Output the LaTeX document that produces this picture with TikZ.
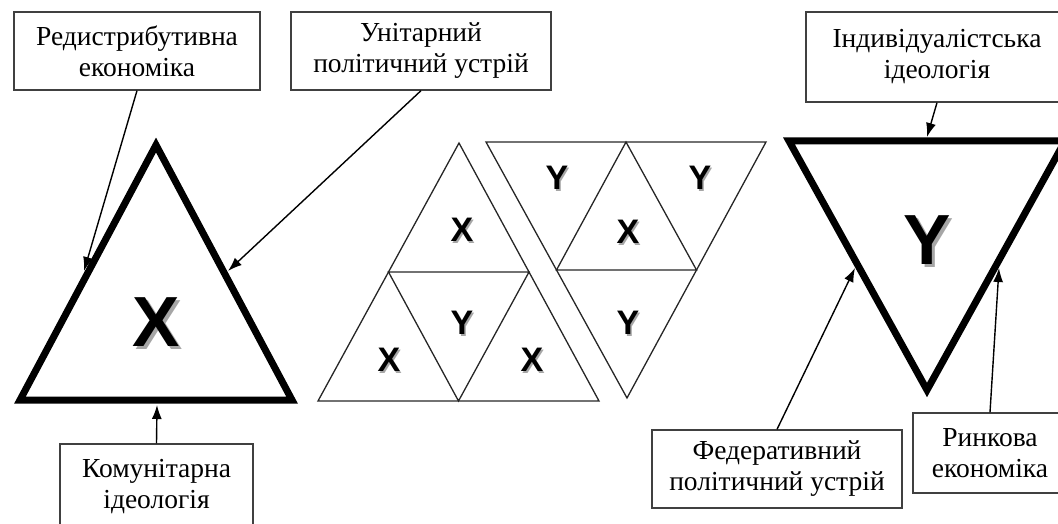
\documentclass[tikz,border=0pt]{standalone}
\usepackage{fontspec}
\setmainfont{Liberation Serif}
\newfontfamily\letterfont{Liberation Sans}
\usetikzlibrary{arrows.meta,calc}

\tikzset{
  lbl/.style={draw=black!75, line width=1.3pt, align=center, inner sep=0pt,
    font=\fontsize{27.5}{31}\selectfont},
  arr/.style={line width=1.4pt, -{Latex[length=14pt,width=10pt]}},
  bigtri/.style={line width=7pt, line join=miter},
  smtri/.style={draw=black!85, line width=1.3pt, line join=miter},
  bigsym/.style={font=\letterfont\bfseries\fontsize{71}{71}\selectfont, inner sep=0pt},
  smsym/.style={font=\letterfont\bfseries\fontsize{34}{34}\selectfont, inner sep=0pt},
}

\begin{document}
\begin{tikzpicture}[x=1pt,y=-1pt]
\clip (0,0) rectangle (1058,524);

% text boxes
\node[lbl, minimum width=246pt, minimum height=78pt] (redist) at (137,51) {Редистрибутивна\\економіка};
\node[lbl, minimum width=260pt, minimum height=78pt] (unit) at (421,51) {Унітарний\\політичний устрій};
\node[lbl, minimum width=193pt, minimum height=86pt] (comm) at (156.5,487) {Комунітарна\\ідеологія};
\node[lbl, minimum width=262pt, minimum height=90pt] (indiv) at (937,57) {Індивідуалістська\\ідеологія};
\node[lbl, minimum width=250pt, minimum height=78pt] (fed) at (777,469) {Федеративний\\політичний устрій};
\node[lbl, minimum width=154pt, minimum height=80pt] (market) at (990,453) {Ринкова\\економіка};

% left big triangle
\coordinate (la) at (156,145);
\coordinate (lb) at (20,400);
\coordinate (lc) at (292,400);
\draw[bigtri] (la) -- (lb) -- (lc) -- cycle;
\node[bigsym, text=black!35] (xshade) at (159,325) {X};
\node[bigsym] (xbig) at (156,322) {X};

% right big triangle
\coordinate (ra) at (789,141);
\coordinate (rb) at (1065,141);
\coordinate (rc) at (927,390);
\draw[bigtri] (ra) -- (rb) -- (rc) -- cycle;
\node[bigsym, text=black!35] (yshade) at (930,243) {Y};
\node[bigsym] (ybig) at (927,240) {Y};

% middle tiling, upward group
\coordinate (ua) at (459,143);
\coordinate (ub) at (318,401);
\coordinate (uc) at (599,401);
\draw[smtri] (ua) -- (ub) -- (uc) -- cycle;
\draw[smtri] ($(ua)!0.5!(ub)$) -- ($(ua)!0.5!(uc)$) -- ($(ub)!0.5!(uc)$) -- cycle;

% middle tiling, downward group
\coordinate (da) at (486,142);
\coordinate (db) at (766,142);
\coordinate (dc) at (627,398);
\draw[smtri] (da) -- (db) -- (dc) -- cycle;
\draw[smtri] ($(da)!0.5!(db)$) -- ($(da)!0.5!(dc)$) -- ($(db)!0.5!(dc)$) -- cycle;

\foreach \n/\x/\y/\t in {p1/462/230/X, p2/462/323/Y, p3/389/360/X, p4/532/360/X,
    q1/557/178/Y, q2/628/232/X, q3/700/178/Y, q4/628/323/Y} {
  \node[smsym, text=black!35] (sh\n) at (\x+1.5,\y+1.5) {\t};
  \node[smsym] (s\n) at (\x,\y) {\t};
}

% arrows
\coordinate (t1) at (84,271);
\coordinate (t2) at (228,271);
\coordinate (t3) at (157,405);
\coordinate (t4) at (927,137);
\coordinate (t5) at (855,268);
\coordinate (t6) at (999,268);
\draw[arr] (redist.south) -- (t1);
\draw[arr] (unit.south) -- (t2);
\draw[arr] (comm.north) -- (t3);
\draw[arr] (indiv.south) -- (t4);
\draw[arr] (fed.north) -- (t5);
\draw[arr] (market.north) -- (t6);
\end{tikzpicture}
\end{document}
